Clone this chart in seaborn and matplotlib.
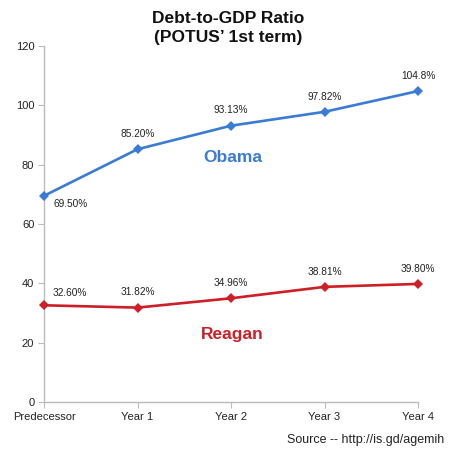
import matplotlib
matplotlib.use("Agg")
import matplotlib.pyplot as plt
import seaborn as sns
import pandas as pd

periods = ["Predecessor", "Year 1", "Year 2", "Year 3", "Year 4"]
obama = [69.50, 85.20, 93.13, 97.82, 104.8]
reagan = [32.60, 31.82, 34.96, 38.81, 39.80]
obama_labels = ["69.50%", "85.20%", "93.13%", "97.82%", "104.8%"]
reagan_labels = ["32.60%", "31.82%", "34.96%", "38.81%", "39.80%"]
yticks = [0, 20, 40, 60, 80, 100, 120]

BLUE = "#3a7bd5"
RED = "#cc1f27"

sns.set_style("white")
plt.rcParams["font.family"] = ["Liberation Sans", "DejaVu Sans"]

df = pd.DataFrame({
    "period": periods * 2,
    "value": obama + reagan,
    "who": ["Obama"] * 5 + ["Reagan"] * 5,
})

fig = plt.figure(figsize=(4.5, 4.5), dpi=100)
ax = fig.add_axes([44 / 450, 1 - 402 / 450, (418 - 44) / 450, (402 - 46) / 450])

sns.lineplot(data=df, x="period", y="value", hue="who",
             palette={"Obama": BLUE, "Reagan": RED},
             marker="D", markersize=5.5, markeredgewidth=0,
             linewidth=1.9, legend=False, ax=ax)
for ln in ax.lines:
    ln.set_clip_on(False)
    ln.set_zorder(5)

ax.set_xlim(0, 4)
ax.set_ylim(0, 120)
ax.set_yticks(yticks)
ax.set_xticks(range(len(periods)))
ax.set_xticklabels(periods)
ax.set_xlabel("")
ax.set_ylabel("")
for s in ["top", "right"]:
    ax.spines[s].set_visible(False)
for s in ["left", "bottom"]:
    ax.spines[s].set_color("#bbbbbb")
    ax.spines[s].set_linewidth(1.0)
ax.tick_params(axis="both", which="both", length=4, width=0.8, color="#bbbbbb",
               labelsize=8, labelcolor="#222222", direction="out", pad=3)
ax.tick_params(left=True, bottom=True)

LBL = 7.3
for i, (v, lab) in enumerate(zip(obama, obama_labels)):
    if i == 0:
        ax.annotate(lab, (i, v), xytext=(6.5, -6), textcoords="offset points",
                    ha="left", va="center", fontsize=LBL, color="#222222")
    else:
        ax.annotate(lab, (i, v), xytext=(0, 11), textcoords="offset points",
                    ha="center", va="center", fontsize=LBL, color="#222222")
for i, (v, lab) in enumerate(zip(reagan, reagan_labels)):
    if i == 0:
        ax.annotate(lab, (i, v), xytext=(6.5, 9), textcoords="offset points",
                    ha="left", va="center", fontsize=LBL, color="#222222")
    else:
        ax.annotate(lab, (i, v), xytext=(0, 11), textcoords="offset points",
                    ha="center", va="center", fontsize=LBL, color="#222222")

fig.text(233 / 450, 1 - 157 / 450, "Obama", color=BLUE, fontsize=12.5,
         fontweight="bold", ha="center", va="center")
fig.text(232 / 450, 1 - 334 / 450, "Reagan", color=RED, fontsize=12.5,
         fontweight="bold", ha="center", va="center")

fig.text(228 / 450, 1 - 28 / 450, "Debt-to-GDP Ratio\n(POTUS’ 1st term)",
         ha="center", va="center", fontsize=12.5, fontweight="bold",
         color="#111111", linespacing=1.4)

fig.text(444 / 450, 1 - 440 / 450, "Source -- http://is.gd/agemih",
         ha="right", va="center", fontsize=9, color="#222222")

fig.savefig("out.png", dpi=100)
